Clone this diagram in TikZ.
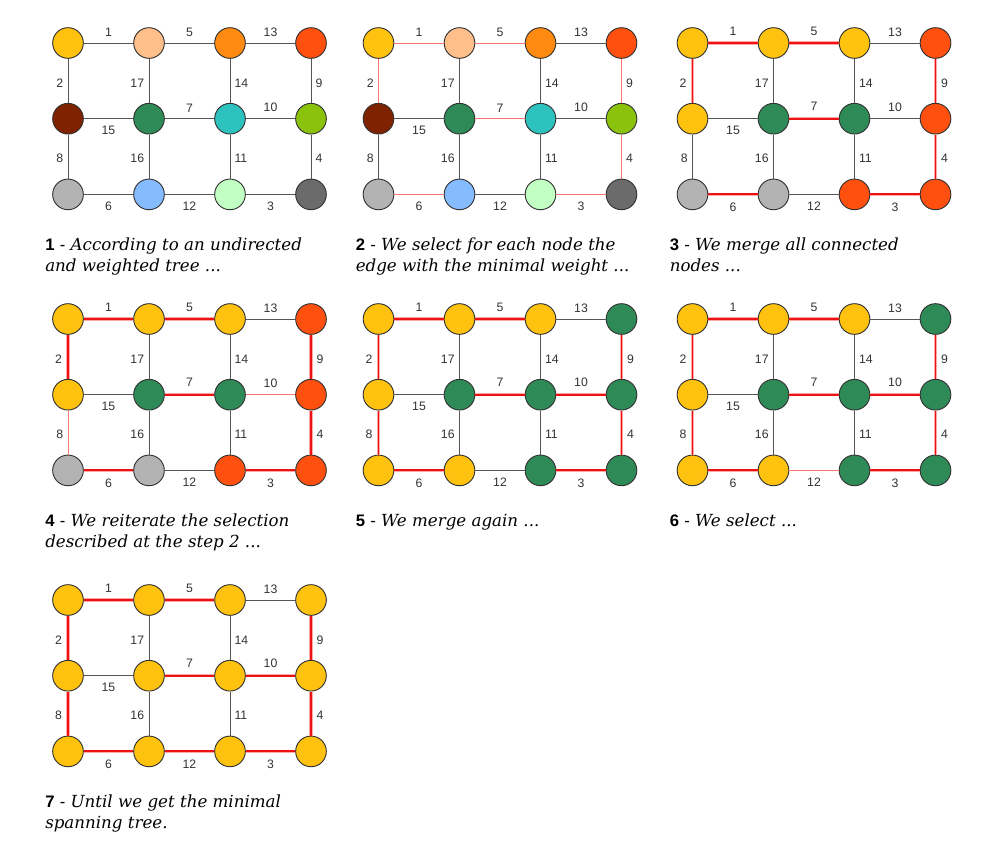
\documentclass[tikz,border=0pt]{standalone}
\usepackage{fontspec}
\setmainfont{DejaVu Serif}
\setsansfont{Liberation Sans}
\usepackage{tikz}
\definecolor{gold}{HTML}{FFC30F}
\definecolor{peach}{HTML}{FFBF8A}
\definecolor{amber}{HTML}{FF8A12}
\definecolor{flame}{HTML}{FF5010}
\definecolor{rust}{HTML}{7F2200}
\definecolor{seagreen}{HTML}{2E8B57}
\definecolor{turq}{HTML}{2EC2BF}
\definecolor{limegreen}{HTML}{8BC20C}
\definecolor{ashgray}{HTML}{B3B3B3}
\definecolor{skyblue}{HTML}{85BBFF}
\definecolor{mint}{HTML}{C2FFC2}
\definecolor{slate}{HTML}{6B6B6B}
\definecolor{edgegray}{HTML}{555555}
\definecolor{pickred}{HTML}{EE1111}
\tikzset{
  vertex/.style={circle,minimum size=23pt,inner sep=0pt,draw=black!80,line width=0.7pt,fill=#1},
  vertex/.default={gold},
  link/.style={draw=edgegray,line width=0.75pt},
  chosen/.style={draw=red!35,line width=2.4pt,postaction={draw=pickred,line width=1.4pt}},
  candidate/.style={draw=red!55,line width=0.75pt},
  weight/.style={font=\sffamily\fontsize{9.2}{11}\selectfont,text=black!80,inner sep=1pt},
  lab-a/.style={above=3.6pt}, lab-b/.style={below=4pt},
  lab-l/.style={left=2.3pt}, lab-r/.style={right=2pt},
  steptext/.style={font=\fontsize{12.5}{15.75}\selectfont\itshape,align=left,anchor=north west,inner sep=0pt},
  w1/.style={}, w2/.style={}, w3/.style={}, w4/.style={}, w5/.style={}, w6/.style={},
  w7/.style={}, w8/.style={}, w9/.style={}, w10/.style={}, w11/.style={}, w12/.style={},
  w13/.style={}, w14/.style={}, w15/.style={}, w16/.style={}, w17/.style={},
  merged/.style={w1/.style=chosen,w5/.style=chosen,w2/.style=chosen,w7/.style=chosen,
    w9/.style=chosen,w4/.style=chosen,w6/.style=chosen,w3/.style=chosen},
}
\newcommand{\stepno}[1]{{\sffamily\upshape\bfseries #1} {\sffamily\upshape -} }
\newcommand{\mstpanel}[6]{%
  \begin{scope}[#5]
    \foreach \col [count=\i from 0] in {#4} {
      \pgfmathtruncatemacro\rr{\i/4}
      \pgfmathtruncatemacro\cc{mod(\i,4)}
      \node[vertex=\col] (#1-\rr\cc) at ({#2+81*\cc},{#3+75.7*\rr}) {};
    }
    \foreach \a/\b/\w/\side/\p in {00/01/1/lab-a/.5,01/02/5/lab-a/.5,02/03/13/lab-a/.5,
      10/11/15/lab-b/.5,11/12/7/lab-a/.5,12/13/10/lab-a/.5,
      20/21/6/lab-b/.5,21/22/12/lab-b/.5,22/23/3/lab-b/.5,
      00/10/2/lab-l/.55,01/11/17/lab-l/.55,02/12/14/lab-r/.55,03/13/9/lab-r/.55,
      10/20/8/lab-l/.55,11/21/16/lab-l/.55,12/22/11/lab-r/.55,13/23/4/lab-r/.55} {
      \draw[link,w\w] (#1-\a) -- (#1-\b) node[weight,\side,pos=\p] {\w};
    }
    \node[steptext] (#1-cap) at ({#2-23},{#3+195}) {#6};
  \end{scope}
}
\begin{document}
\begin{tikzpicture}[x=0.75pt,y=-0.75pt]
  \useasboundingbox (0,0) rectangle (1000,858);
  \mstpanel{p1}{68}{43}{gold,peach,amber,flame,rust,seagreen,turq,limegreen,ashgray,skyblue,mint,slate}{}
    {\stepno{1}According to an undirected\\and weighted tree ...}
  \mstpanel{p2}{378.5}{43}{gold,peach,amber,flame,rust,seagreen,turq,limegreen,ashgray,skyblue,mint,slate}
    {w1/.style=candidate,w5/.style=candidate,w2/.style=candidate,w9/.style=candidate,
     w7/.style=candidate,w6/.style=candidate,w4/.style=candidate,w3/.style=candidate}
    {\stepno{2}We select for each node the\\edge with the minimal weight ...}
  \mstpanel{p3}{692.5}{43}{gold,gold,gold,flame,gold,seagreen,seagreen,flame,ashgray,ashgray,flame,flame}{merged}
    {\stepno{3}We merge all connected\\nodes ...}
  \mstpanel{p4}{68}{319}{gold,gold,gold,flame,gold,seagreen,seagreen,flame,ashgray,ashgray,flame,flame}
    {merged,w10/.style=candidate,w8/.style=candidate}
    {\stepno{4}We reiterate the selection\\described at the step 2 ...}
  \mstpanel{p5}{378.5}{319}{gold,gold,gold,seagreen,gold,seagreen,seagreen,seagreen,gold,gold,seagreen,seagreen}
    {merged,w10/.style=chosen,w8/.style=chosen}
    {\stepno{5}We merge again ...}
  \mstpanel{p6}{692.5}{319}{gold,gold,gold,seagreen,gold,seagreen,seagreen,seagreen,gold,gold,seagreen,seagreen}
    {merged,w10/.style=chosen,w8/.style=chosen,w12/.style=candidate}
    {\stepno{6}We select ...}
  \mstpanel{p7}{68}{600}{gold,gold,gold,gold,gold,gold,gold,gold,gold,gold,gold,gold}
    {merged,w10/.style=chosen,w8/.style=chosen,w12/.style=chosen}
    {\stepno{7}Until we get the minimal\\spanning tree.}
\end{tikzpicture}
\end{document}
